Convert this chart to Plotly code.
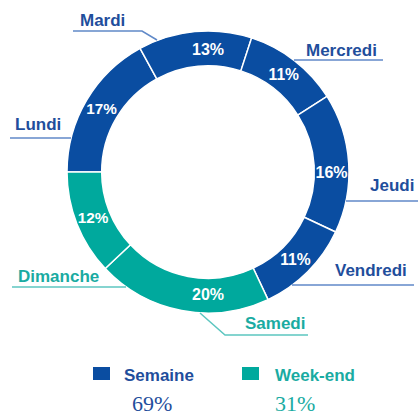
import plotly.graph_objects as go

# ---- data ----
days = ["Lundi", "Mardi", "Mercredi", "Jeudi", "Vendredi", "Samedi", "Dimanche"]
shares = [17, 13, 11, 16, 11, 20, 12]
day_group = ["Semaine", "Semaine", "Semaine", "Semaine", "Semaine", "Week-end", "Week-end"]
groups = ["Semaine", "Week-end"]
group_shares = [69, 31]

# ---- styles ----
W, H = 418, 416
slice_col = {"Semaine": "#0A4DA1", "Week-end": "#00A99D"}
text_col = {"Semaine": "#1F4E9C", "Week-end": "#1AABA2"}
line_col = {"Semaine": "#6089C8", "Week-end": "#5CC6C0"}

cx, cy, R = 208, 172, 141


def px(x):
    return x / W


def py(y):
    return 1 - y / H


fig = go.Figure(go.Pie(
    labels=days,
    values=shares,
    sort=False,
    direction="clockwise",
    rotation=-90,
    hole=0.754,
    marker=dict(colors=[slice_col[g] for g in day_group],
                line=dict(color="white", width=1.5)),
    texttemplate="%{value}%",
    textposition="inside",
    insidetextorientation="horizontal",
    textfont=dict(family="Liberation Sans", size=16, color="white", weight="bold"),
    hoverinfo="label+percent",
    showlegend=False,
    domain=dict(x=[px(cx - R), px(cx + R)], y=[py(cy + R), py(cy - R)]),
))

# outside label layout: (text left x, text center y, leader polyline)
label_layout = {
    "Lundi": (13, 125, [(10, 138), (71, 138)]),
    "Mardi": (78, 20, [(73, 31), (142, 31), (157, 40)]),
    "Mercredi": (304, 50, [(294, 60), (383, 60)]),
    "Jeudi": (368, 185, [(346, 201), (418, 201)]),
    "Vendredi": (333, 270, [(292, 285), (414, 285)]),
    "Samedi": (243, 323, [(200, 313), (225, 335), (308, 335)]),
    "Dimanche": (16, 276, [(12, 287), (126, 287)]),
}

annotations = []
shapes = []
for d, g in zip(days, day_group):
    tx, ty, pts = label_layout[d]
    annotations.append(dict(
        x=px(tx), y=py(ty), xref="paper", yref="paper",
        xanchor="left", yanchor="middle", showarrow=False,
        text=d,
        font=dict(family="Liberation Sans", size=17, color=text_col[g], weight="bold"),
    ))
    path = "M " + " L ".join(f"{px(x)},{py(y)}" for x, y in pts)
    shapes.append(dict(type="path", path=path, xref="paper", yref="paper",
                       line=dict(color=line_col[g], width=1.5)))

# legend
leg_layout = {"Semaine": (93, 122, 152), "Week-end": (242, 273, 295)}
for g, s in zip(groups, group_shares):
    sx, tx, pcx = leg_layout[g]
    shapes.append(dict(type="rect", xref="paper", yref="paper",
                       x0=px(sx), x1=px(sx + 17), y0=py(380), y1=py(367),
                       fillcolor=slice_col[g], line=dict(width=0)))
    annotations.append(dict(
        x=px(tx), y=py(375.5), xref="paper", yref="paper",
        xanchor="left", yanchor="middle", showarrow=False,
        text=g,
        font=dict(family="Liberation Sans", size=17, color=text_col[g], weight="bold"),
    ))
    annotations.append(dict(
        x=px(pcx), y=py(403), xref="paper", yref="paper",
        xanchor="center", yanchor="middle", showarrow=False,
        borderpad=0,
        text=f"{s}%",
        font=dict(family="Liberation Serif", size=22, color=text_col[g]),
    ))

fig.update_layout(
    width=W, height=H,
    margin=dict(l=0, r=0, t=0, b=0),
    paper_bgcolor="white",
    plot_bgcolor="white",
    annotations=annotations,
    shapes=shapes,
)

fig.write_html("out.html", config={"displayModeBar": False})
